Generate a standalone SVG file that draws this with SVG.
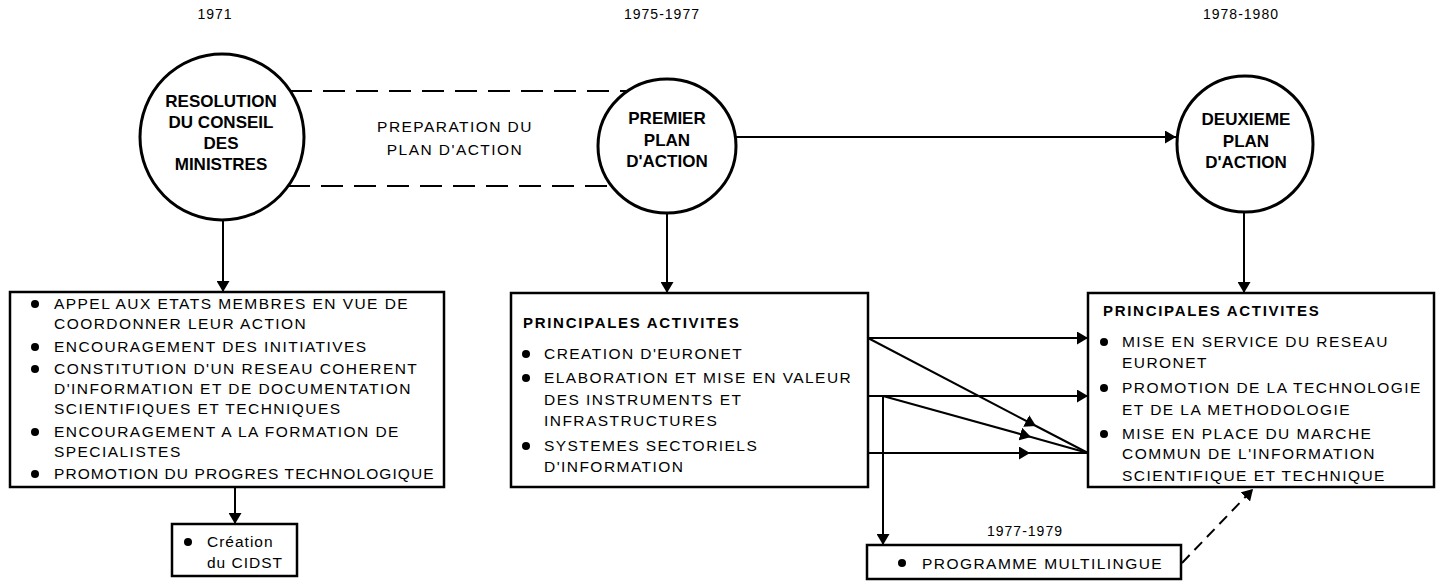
<svg xmlns="http://www.w3.org/2000/svg" width="1441" height="581" viewBox="0 0 1441 581">
<style>
.bg{fill:#fff}
.node{fill:#fff;stroke:#000;stroke-width:3}
.box{fill:#fff;stroke:#000;stroke-width:2.5}
.t{font-family:"Liberation Sans",Arial,sans-serif;font-size:15.5px;letter-spacing:1.45px;fill:#000}
.h{font-family:"Liberation Sans",Arial,sans-serif;font-size:15px;font-weight:bold;letter-spacing:1.7px;fill:#000}
.c{font-family:"Liberation Sans",Arial,sans-serif;font-size:17px;font-weight:bold;fill:#000;text-anchor:middle}
.y{font-family:"Liberation Sans",Arial,sans-serif;font-size:14px;letter-spacing:1px;fill:#000;text-anchor:middle}
.m{text-anchor:middle}
.ln{fill:none;stroke:#000;stroke-width:2}
.dash{fill:none;stroke:#000;stroke-width:2;stroke-dasharray:22 11}
.b{fill:#000}
</style>
<defs>
<marker id="ah" viewBox="0 0 11 13" refX="11" refY="6.5" markerWidth="11" markerHeight="13" markerUnits="userSpaceOnUse" orient="auto">
<path d="M0,0 L11,6.5 L0,13 z" fill="#000"/>
</marker>
</defs>
<rect class="bg" x="0" y="0" width="1441" height="581"/>

<g id="years">
<text class="y" x="215" y="19">1971</text>
<text class="y" x="662" y="19">1975-1977</text>
<text class="y" x="1241" y="19">1978-1980</text>
</g>

<g id="connectors">
<line class="dash" x1="290" y1="91" x2="628" y2="91"/>
<line class="dash" x1="288" y1="186" x2="612" y2="186"/>
<line class="ln" x1="736" y1="137" x2="1176" y2="137" marker-end="url(#ah)"/>
<line class="ln" x1="223" y1="220" x2="223" y2="292" marker-end="url(#ah)"/>
<line class="ln" x1="667" y1="213" x2="667" y2="293" marker-end="url(#ah)"/>
<line class="ln" x1="1244" y1="212" x2="1244" y2="293" marker-end="url(#ah)"/>
<line class="ln" x1="235" y1="487" x2="235" y2="524" marker-end="url(#ah)"/>
<line class="ln" x1="868" y1="338" x2="1088" y2="338" marker-end="url(#ah)"/>
<line class="ln" x1="868" y1="396" x2="1088" y2="396" marker-end="url(#ah)"/>
<path class="ln" d="M868,338 L1036,426 L1088,453" marker-mid="url(#ah)"/>
<path class="ln" d="M883,396 L1031,437 L1088,453" marker-mid="url(#ah)"/>
<path class="ln" d="M868,453 L1030,453 L1088,453" marker-mid="url(#ah)"/>
<line class="ln" x1="883" y1="396" x2="883" y2="545" marker-end="url(#ah)"/>
<line class="dash" style="stroke-dasharray:11 7" x1="1182" y1="563" x2="1253" y2="489" marker-end="url(#ah)"/>
</g>

<g id="resolution">
<ellipse class="node" cx="222" cy="137" rx="82" ry="83"/>
<text class="c" x="221" y="107">RESOLUTION</text>
<text class="c" x="221" y="128">DU CONSEIL</text>
<text class="c" x="221" y="149">DES</text>
<text class="c" x="221" y="170">MINISTRES</text>
</g>

<g id="preparation">
<text class="t m" x="455" y="132">PREPARATION DU</text>
<text class="t m" x="455" y="155">PLAN D'ACTION</text>
</g>

<g id="premier-plan">
<ellipse class="node" cx="667" cy="146" rx="69" ry="67"/>
<text class="c" x="667" y="124">PREMIER</text>
<text class="c" x="667" y="146">PLAN</text>
<text class="c" x="667" y="167">D'ACTION</text>
</g>

<g id="deuxieme-plan">
<ellipse class="node" cx="1245" cy="144" rx="68" ry="68"/>
<text class="c" x="1246" y="125">DEUXIEME</text>
<text class="c" x="1246" y="147">PLAN</text>
<text class="c" x="1246" y="168">D'ACTION</text>
</g>

<g id="box-1971">
<rect class="box" x="10" y="292" width="434" height="195"/>
<circle class="b" cx="35" cy="304" r="4"/>
<text class="t" x="54" y="309">APPEL AUX ETATS MEMBRES EN VUE DE</text>
<text class="t" x="54" y="329">COORDONNER LEUR ACTION</text>
<circle class="b" cx="35" cy="347" r="4"/>
<text class="t" x="54" y="352">ENCOURAGEMENT DES INITIATIVES</text>
<circle class="b" cx="35" cy="369" r="4"/>
<text class="t" x="54" y="374">CONSTITUTION D'UN RESEAU COHERENT</text>
<text class="t" x="54" y="394">D'INFORMATION ET DE DOCUMENTATION</text>
<text class="t" x="54" y="414">SCIENTIFIQUES ET TECHNIQUES</text>
<circle class="b" cx="35" cy="432" r="4"/>
<text class="t" x="54" y="437">ENCOURAGEMENT A LA FORMATION DE</text>
<text class="t" x="54" y="457">SPECIALISTES</text>
<circle class="b" cx="35" cy="474" r="4"/>
<text class="t" x="54" y="479" textLength="381" lengthAdjust="spacing">PROMOTION DU PROGRES TECHNOLOGIQUE</text>
</g>

<g id="cidst">
<rect class="box" x="172" y="524" width="125" height="52"/>
<circle class="b" cx="188" cy="542" r="4"/>
<text class="t" style="letter-spacing:1px" x="207" y="547">Création</text>
<text class="t" style="letter-spacing:1px" x="207" y="568">du CIDST</text>
</g>

<g id="box-premier">
<rect class="box" x="511" y="293" width="357" height="194"/>
<text class="h" x="523" y="328">PRINCIPALES ACTIVITES</text>
<circle class="b" cx="526" cy="354" r="4"/>
<text class="t" x="544" y="359">CREATION D'EURONET</text>
<circle class="b" cx="526" cy="378" r="4"/>
<text class="t" x="544" y="383">ELABORATION ET MISE EN VALEUR</text>
<text class="t" x="544" y="405">DES INSTRUMENTS ET</text>
<text class="t" x="544" y="426">INFRASTRUCTURES</text>
<circle class="b" cx="526" cy="446" r="4"/>
<text class="t" x="544" y="451">SYSTEMES SECTORIELS</text>
<text class="t" x="544" y="472">D'INFORMATION</text>
</g>

<g id="box-deuxieme">
<rect class="box" x="1088" y="293" width="346" height="194"/>
<text class="h" x="1103" y="316">PRINCIPALES ACTIVITES</text>
<circle class="b" cx="1104" cy="342" r="4"/>
<text class="t" x="1122" y="347">MISE EN SERVICE DU RESEAU</text>
<text class="t" x="1122" y="368">EURONET</text>
<circle class="b" cx="1104" cy="388" r="4"/>
<text class="t" x="1122" y="393">PROMOTION DE LA TECHNOLOGIE</text>
<text class="t" x="1122" y="415">ET DE LA METHODOLOGIE</text>
<circle class="b" cx="1104" cy="434" r="4"/>
<text class="t" x="1122" y="439">MISE EN PLACE DU MARCHE</text>
<text class="t" x="1122" y="459">COMMUN DE L'INFORMATION</text>
<text class="t" x="1122" y="481">SCIENTIFIQUE ET TECHNIQUE</text>
</g>

<g id="multilingue">
<text class="y" x="1025" y="536">1977-1979</text>
<rect class="box" x="867" y="545" width="314" height="34"/>
<circle class="b" cx="902" cy="563" r="4"/>
<text class="t" x="922" y="569">PROGRAMME MULTILINGUE</text>
</g>
</svg>
